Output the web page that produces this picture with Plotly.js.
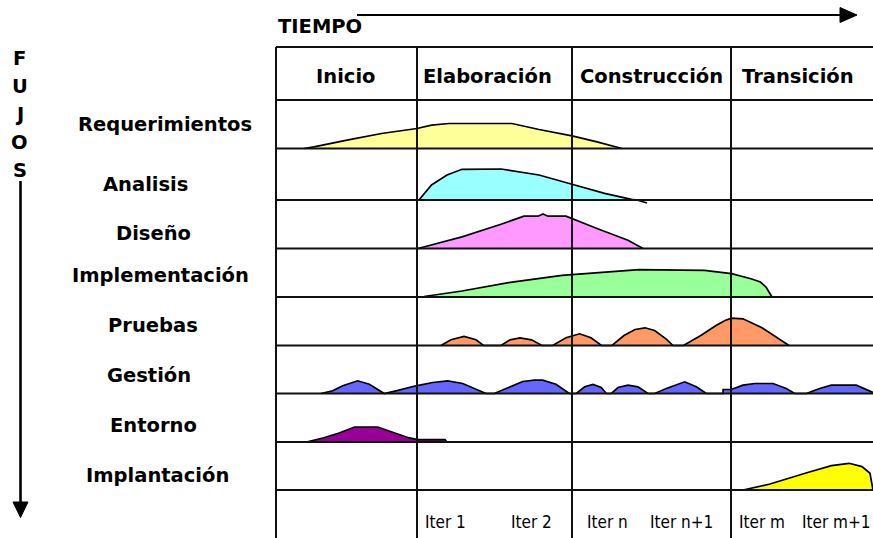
<!DOCTYPE html>
<html>
<head>
<meta charset="utf-8">
<script src="https://cdn.plot.ly/plotly-3.0.1.min.js"></script>
<style>html,body{margin:0;padding:0;background:#fff;}#chart{width:873px;height:538px;}</style>
</head>
<body>
<div id="chart"></div>
<script>
// ---- data (time position along the grid, effort height of each workflow) ----
const workflows = ['Requerimientos','Analisis','Diseño','Implementación','Pruebas','Gestión','Entorno','Implantación'];
const phases = ['Inicio','Elaboración','Construcción','Transición'];
const iterLabels = ['Iter 1','Iter 2','Iter n','Iter n+1','Iter m','Iter m+1'];
const fujos = ['F','U','J','O','S'];

const reqT = [304,314,347,381.5,417,431.5,449,512,539,572,597,616,622];
const reqE = [0,1.6,8.3,15,20,23.3,25,25,19,12.6,6.6,1.6,0];

const anaT = [419,431.5,447,462,501,539,572,604.6,631.5,637];
const anaE = [0,15,25,30.7,31,25,15.7,6.7,0.7,0];
const anaTailT = [637,647];
const anaTailE = [0,-3];

const disT = [418,462,501,524,538,543,548,566,597,628,643];
const disE = [0,11.6,24.3,32.3,32.3,34.5,32.3,32.3,20,8.3,0];

const impT = [412,424,462,508.5,562,604.6,639,704.6,731.5,751,760.4,766,772];
const impE = [0,0.5,6,14.4,21.7,25,27.4,26.7,23.4,18.3,15,10,0];

const pruT = [441,451,464,476,483.5, 501,510,520,531.5,542, 552.7,566,579.6,591,601.5,
              612,624,635,645,654.6,666,673, 683.5,700.8,716,725,731.5,743,762,777.7,789];
const pruE = [0,5.7,9,5.7,0, 0,5.7,7.7,5.7,0, 0,7.7,11.7,7.7,0,
              0,10,16,17.7,15,6.7,0, 0,10,20,25,27.3,26.7,17.7,7.7,0];

const gesT = [321,332.7,342.7,357.7,369.3,377.7,384.3, 396,416,432.7,447.7,462.7,476,486,
              494.3,509.3,522.7,534.3,542.7,556,569.3, 576.3,584.7,593,601.3,606.3,
              611.3,618,628,638,648, 654.7,666.3,684.7,696.3,706.3, 723,723.1,731.3,743,754.7,773,786.3,794.7,
              806.3,819.7,831.3,856.3,869.7,873];
const gesE = [0,2.7,7.7,12.7,9.3,4.3,0, 2.7,7.7,11,12.7,10,4.3,0,
              0,6,12,13.3,13.3,9.3,0, 0,6.7,9,6,0,
              0,6,8.3,6.7,0, 0,5,11.7,6.7,0, 0,4,4,8.3,10,10,5,0,
              0,5,8.3,8.3,2.7,1];

const entT = [306.5,323.8,339,354.6,377.7,393,408.5,417.3,445,447,493];
const entE = [0,4.3,9,15,15,10,4.3,2.3,2.3,0,0];

const implT = [743,770,808.5,831.5,849,862,870,873];
const implE = [0,6,17.7,24.4,26.7,23.4,16.7,0];

const colors = ['#ffff99','#99ffff','#ff99ff','#99ff99','#ff9966','#6666ff','#990099','#ffff00'];

// ---- layout geometry (page pixels) ----
const W = 873, H = 538;
const gridLeft = 276, gridTop = 47;
const rowLines = [100,148.5,200,248.5,297,345.5,393.5,442,490];
const colLines = [276,417,572,731];
const phaseX = [345,487,651,798];
const iterX = [446,531.5,607.5,681.5,762,836.5];
const labelX = [165,145,153.5,160,152.5,149,153,157];
const labelY = [124.5,184,233,275,325,375,425,475];
const fujosY = [58.5,86.7,114,142.5,170.5];

const px = v => v / W;
const py = v => 1 - v / H;

const series = [
  [reqT, reqE], [anaT, anaE], [disT, disE], [impT, impE],
  [pruT, pruE], [gesT, gesE], [entT, entE], [implT, implE]
];

const traces = [];
const layout = {
  width: W, height: H,
  margin: {l:0, r:0, t:0, b:0, pad:0},
  paper_bgcolor: '#fff', plot_bgcolor: 'rgba(0,0,0,0)',
  showlegend: false,
  hovermode: false,
  xaxis: {range:[0, W], domain:[0,1], visible:false, fixedrange:true},
  shapes: [], annotations: []
};

series.forEach((s, i) => {
  const ax = 'y' + (i + 2);
  const top = rowLines[i], bot = rowLines[i + 1];
  layout['yaxis' + (i + 2)] = {
    domain: [py(bot + 6), py(top)],
    range: [-6, bot - top],
    visible: false, fixedrange: true, anchor: 'x'
  };
  traces.push({
    type: 'scatter', mode: 'lines', x: s[0], y: s[1], xaxis: 'x', yaxis: ax,
    fill: 'tozeroy', fillcolor: colors[i],
    line: {color: '#000', width: 1.7}, hoverinfo: 'skip', cliponaxis: false
  });
});
traces.push({
  type: 'scatter', mode: 'lines', x: anaTailT, y: anaTailE, xaxis: 'x', yaxis: 'y3',
  line: {color: '#000', width: 1.7}, hoverinfo: 'skip', cliponaxis: false
});

// grid
const gridColor = '#111';
[gridTop].concat(rowLines).forEach(y => {
  layout.shapes.push({type:'line', xref:'paper', yref:'paper', x0:px(gridLeft), x1:px(W), y0:py(y), y1:py(y),
    line:{color:gridColor, width:2}, layer:'above'});
});
colLines.forEach(x => {
  layout.shapes.push({type:'line', xref:'paper', yref:'paper', x0:px(x), x1:px(x), y0:py(gridTop), y1:py(H),
    line:{color:gridColor, width:2}, layer:'above'});
});

// TIEMPO arrow
layout.shapes.push({type:'line', xref:'paper', yref:'paper', x0:px(357), x1:px(842), y0:py(15), y1:py(15),
  line:{color:'#000', width:2.2}});
layout.shapes.push({type:'path', xref:'paper', yref:'paper',
  path:`M ${px(840)} ${py(7.5)} L ${px(857)} ${py(15)} L ${px(840)} ${py(22.5)} Z`,
  fillcolor:'#000', line:{color:'#000', width:1}});
// FUJOS arrow
layout.shapes.push({type:'line', xref:'paper', yref:'paper', x0:px(20.5), x1:px(20.5), y0:py(181), y1:py(504),
  line:{color:'#000', width:2.6}});
layout.shapes.push({type:'path', xref:'paper', yref:'paper',
  path:`M ${px(13)} ${py(502)} L ${px(28)} ${py(502)} L ${px(20.5)} ${py(517.5)} Z`,
  fillcolor:'#000', line:{color:'#000', width:1}});

const boldFont = {family:'DejaVu Sans, Verdana, sans-serif', size:19.5, color:'#000'};
const ann = (text, x, y, font) => layout.annotations.push({
  text, x:px(x), y:py(y), xref:'paper', yref:'paper', showarrow:false,
  xanchor:'center', yanchor:'middle', font
});

ann('<b>TIEMPO</b>', 320, 27, boldFont);
fujos.forEach((t, i) => ann('<b>' + t + '</b>', 19.5, fujosY[i], boldFont));
phases.forEach((t, i) => ann('<b>' + t + '</b>', phaseX[i], 76, boldFont));
workflows.forEach((t, i) => ann('<b>' + t + '</b>', labelX[i], labelY[i], boldFont));
const iterFont = {family:'DejaVu Sans Condensed, Liberation Sans Narrow, sans-serif', size:17, color:'#000'};
iterLabels.forEach((t, i) => ann(t, iterX[i], 521.5, iterFont));

Plotly.newPlot('chart', traces, layout, {staticPlot:true, displayModeBar:false});
</script>
</body>
</html>
